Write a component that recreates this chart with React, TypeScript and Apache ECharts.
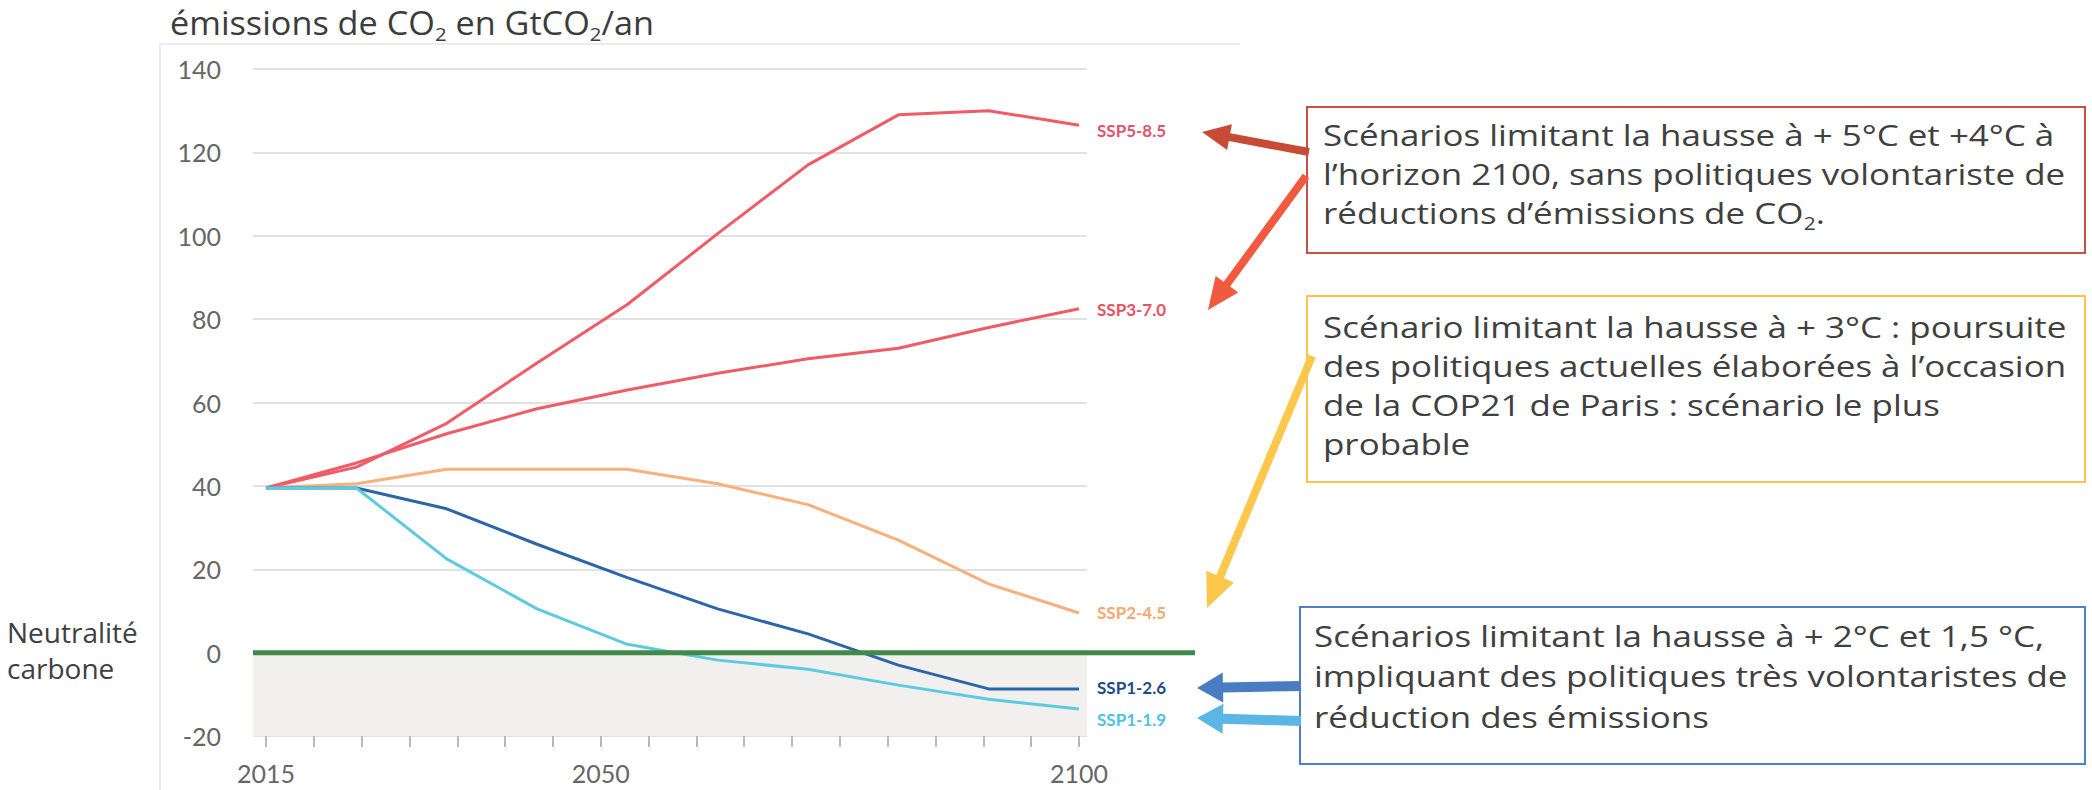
import React, { useEffect, useRef } from 'react';
import * as echarts from 'echarts';

// ---------- data ----------
const years = ['2015', '2020', '2030', '2040', '2050', '2060', '2070', '2080', '2090', '2100'];
const tickYears = [2015, 2020, 2025, 2030, 2035, 2040, 2045, 2050, 2055, 2060, 2065, 2070, 2075, 2080, 2085, 2090, 2095, 2100];
const labeledYears = [2015, 2050, 2100];

const ssp585 = [39.5, 44.5, 55, 69.5, 83.5, 100.5, 117, 129, 130, 126.5];
const ssp370 = [39.5, 45.5, 52.5, 58.5, 63, 67, 70.5, 73, 78, 82.5];
const ssp245 = [39.5, 40.5, 44, 44, 44, 40.5, 35.5, 27, 16.5, 9.5];
const ssp126 = [39.5, 39.5, 34.5, 26, 18, 10.5, 4.5, -3, -8.7, -8.7];
const ssp119 = [39.5, 39.5, 22.5, 10.5, 2, -1.8, -4, -7.8, -11.2, -13.5];

const scenarioNames = ['SSP5-8.5', 'SSP3-7.0', 'SSP2-4.5', 'SSP1-2.6', 'SSP1-1.9'];
const scenarioData = [ssp585, ssp370, ssp245, ssp126, ssp119];

const yMin = -20;
const yMax = 140;
const yStep = 20;
const neutrality = 0;

// ---------- styles ----------
const lineColors = ['#ef5b66', '#ef5b66', '#f9b07a', '#2b66a6', '#5ccbe2'];
const labelColors = ['#e2546c', '#e8525f', '#f8a86e', '#1f4a86', '#4fc1e2'];
const labelOffsets = [[0, 5], [0, 1], [0, -1], [0, -1], [0, 11]];

const annoFont = "'Open Sans', 'DejaVu Sans', sans-serif";
const textColor = '#404040';
const annoScaleX = 1.165;

function arrow(x1: number, y1: number, x2: number, y2: number, w: number, L: number, W: number, color: string) {
  const dx = x2 - x1, dy = y2 - y1, len = Math.hypot(dx, dy);
  const ux = dx / len, uy = dy / len;
  const nx = -uy, ny = ux;
  const bx = x2 - ux * L, by = y2 - uy * L;
  const pts = [
    [x1 + nx * w / 2, y1 + ny * w / 2],
    [bx + nx * w / 2, by + ny * w / 2],
    [bx + nx * W / 2, by + ny * W / 2],
    [x2, y2],
    [bx - nx * W / 2, by - ny * W / 2],
    [bx - nx * w / 2, by - ny * w / 2],
    [x1 - nx * w / 2, y1 - ny * w / 2],
  ];
  return { type: 'polygon', shape: { points: pts }, style: { fill: color }, z: 10, silent: true };
}

export default function App() {
  const ref = useRef<HTMLDivElement>(null);

  useEffect(() => {
    const chart = echarts.init(ref.current!, null, { renderer: 'svg' });

    const top = 69;
    const height = 667;

    const lineSeries = scenarioNames.map((name, i) => ({
      type: 'line',
      name,
      xAxisIndex: 1,
      yAxisIndex: 1,
      data: scenarioData[i],
      symbol: 'none',
      lineStyle: { color: lineColors[i], width: 3 },
      z: 4,
      endLabel: {
        show: true,
        formatter: name,
        color: labelColors[i],
        fontFamily: 'Lato',
        fontWeight: 'bold',
        fontSize: 17,
        distance: 18,
        offset: labelOffsets[i],
      },
    }));

    const option: any = {
      animation: false,
      backgroundColor: '#ffffff',
      grid: [
        { left: 253, top, width: 834, height },
        { left: 266, top, width: 813, height },
        { left: 253, top, width: 942, height },
        { left: 266, top, width: 813, height },
      ],
      xAxis: [
        { gridIndex: 0, type: 'value', min: 0, max: 1, show: false },
        { gridIndex: 1, type: 'category', data: years, boundaryGap: false, show: false },
        { gridIndex: 2, type: 'value', min: 0, max: 1, show: false },
        {
          gridIndex: 3,
          type: 'value',
          min: 0,
          max: tickYears.length - 1,
          interval: 1,
          axisLine: { show: false, onZero: false },
          axisTick: { show: true, length: 11, lineStyle: { color: '#b9b9b9', width: 2 } },
          axisLabel: {
            formatter: (v: number) => (labeledYears.includes(tickYears[v]) ? String(tickYears[v]) : ''),
            margin: 24,
            fontFamily: 'Lato',
            fontSize: 25,
            color: '#666666',
            showMinLabel: true,
            showMaxLabel: true,
          },
          splitLine: { show: false },
        },
      ],
      yAxis: [
        {
          gridIndex: 0,
          type: 'value',
          min: yMin,
          max: yMax,
          interval: yStep,
          axisLine: { show: false },
          axisTick: { show: false },
          axisLabel: { margin: 32, fontFamily: 'Lato', fontSize: 25, color: '#666666' },
          splitLine: { lineStyle: { color: '#e2e2e5', width: 2 } },
        },
        { gridIndex: 1, type: 'value', min: yMin, max: yMax, show: false },
        { gridIndex: 2, type: 'value', min: yMin, max: yMax, show: false },
        { gridIndex: 3, type: 'value', min: yMin, max: yMax, show: false },
      ],
      series: [
        {
          type: 'line',
          xAxisIndex: 0,
          yAxisIndex: 0,
          data: [[0, neutrality], [1, neutrality]],
          symbol: 'none',
          lineStyle: { width: 0 },
          areaStyle: { color: '#f1f0ef', origin: 'start', opacity: 1 },
          silent: true,
          z: 1,
        },
        ...lineSeries,
        {
          type: 'line',
          xAxisIndex: 2,
          yAxisIndex: 2,
          data: [[0, neutrality], [1, neutrality]],
          symbol: 'none',
          lineStyle: { color: '#3f8a48', width: 5 },
          silent: true,
          z: 6,
        },
      ],
      graphic: [
        {
          type: 'polyline',
          shape: { points: [[1240, 44], [160, 44], [160, 790]] },
          style: { stroke: '#ececec', lineWidth: 2, fill: null },
          silent: true,
          z: 0,
        },
        // title
        {
          type: 'text',
          x: 170,
          y: 3,
          scaleX: 1.07,
          style: {
            text: '{a|émissions de CO}{s|2}{a| en GtCO}{s|2}{a|/an}',
            rich: {
              a: { fontFamily: annoFont, fontSize: 32, lineHeight: 40, fill: '#3c3c3c', verticalAlign: 'middle' },
              s: { fontFamily: annoFont, fontSize: 19, lineHeight: 22, fill: '#3c3c3c', verticalAlign: 'bottom' },
            },
            textVerticalAlign: 'top',
          },
        },
        {
          type: 'text',
          x: 7,
          y: 614,
          style: {
            text: 'Neutralité\ncarbone',
            fontFamily: annoFont,
            fontSize: 28,
            lineHeight: 36,
            fill: textColor,
            textVerticalAlign: 'top',
          },
        },
        // box 1
        {
          type: 'rect',
          shape: { x: 1307, y: 107, width: 778, height: 146 },
          style: { fill: '#ffffff', stroke: '#c8504a', lineWidth: 2 },
          z: 8,
        },
        {
          type: 'text',
          x: 1323,
          y: 115,
          z: 9,
          scaleX: annoScaleX,
          style: {
            text: '{a|Scénarios limitant la hausse à + 5°C et +4°C à}\n{a|l’horizon 2100, sans politiques volontariste de}\n{a|réductions d’émissions de CO}{s|2}{a|.}',
            rich: {
              a: { fontFamily: annoFont, fontSize: 30, lineHeight: 39, fill: textColor, verticalAlign: 'middle' },
              s: { fontFamily: annoFont, fontSize: 18, lineHeight: 20, fill: textColor, verticalAlign: 'bottom' },
            },
            textVerticalAlign: 'top',
          },
        },
        // box 2
        {
          type: 'rect',
          shape: { x: 1307, y: 296, width: 778, height: 186 },
          style: { fill: '#ffffff', stroke: '#fcc44e', lineWidth: 2 },
          z: 8,
        },
        {
          type: 'text',
          x: 1323,
          y: 307,
          z: 9,
          scaleX: annoScaleX,
          style: {
            text: 'Scénario limitant la hausse à + 3°C : poursuite\ndes politiques actuelles élaborées à l’occasion\nde la COP21 de Paris : scénario le plus\nprobable',
            fontFamily: annoFont,
            fontSize: 30,
            lineHeight: 39,
            fill: textColor,
            textVerticalAlign: 'top',
          },
        },
        // box 3
        {
          type: 'rect',
          shape: { x: 1300, y: 607, width: 785, height: 157 },
          style: { fill: '#ffffff', stroke: '#4f7fc8', lineWidth: 2 },
          z: 8,
        },
        {
          type: 'text',
          x: 1314,
          y: 615,
          z: 9,
          scaleX: annoScaleX,
          style: {
            text: 'Scénarios limitant la hausse à + 2°C et 1,5 °C,\nimpliquant des politiques très volontaristes de\nréduction des émissions',
            fontFamily: annoFont,
            fontSize: 30,
            lineHeight: 40.5,
            fill: textColor,
            textVerticalAlign: 'top',
          },
        },
        arrow(1309, 152, 1202, 132, 8, 28, 26, '#c84b35'),
        arrow(1306, 176, 1208, 310, 8, 32, 28, '#f25a3f'),
        arrow(1312, 356, 1207, 608, 8, 34, 30, '#fdc64c'),
        arrow(1301, 686, 1197, 688, 10, 26, 30, '#4a7cc4'),
        arrow(1301, 721, 1197, 718, 10, 26, 30, '#5bb5e5'),
      ],
    };

    chart.setOption(option);
    return () => chart.dispose();
  }, []);

  return <div ref={ref} style={{ position: 'absolute', left: 0, top: 0, width: 2092, height: 790 }} />;
}
